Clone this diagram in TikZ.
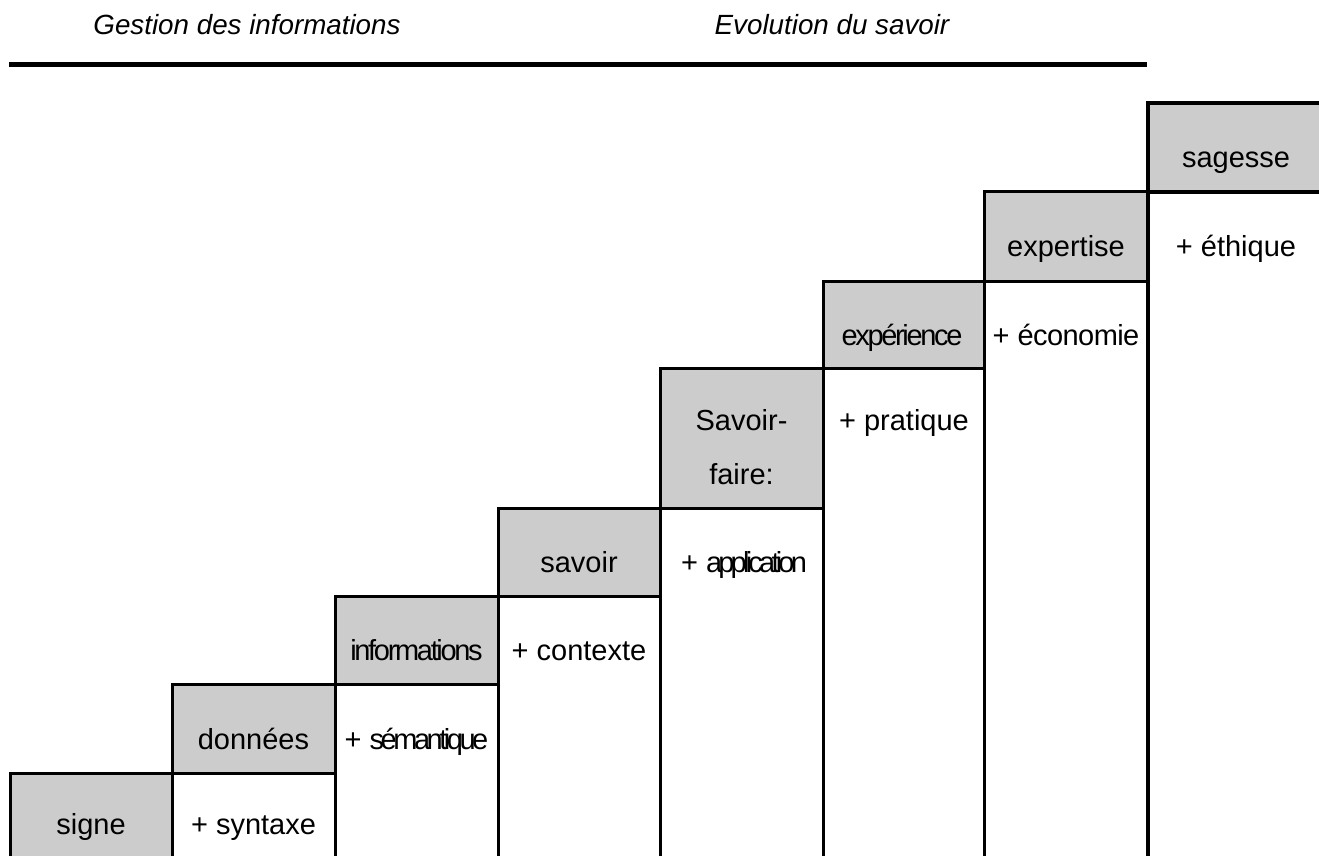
\documentclass[tikz,border=0pt]{standalone}
\usepackage{fontspec}
\setmainfont{Liberation Sans}
\newcommand\tight[2]{{\addfontfeature{LetterSpace=#1}#2}}
\definecolor{cellgray}{HTML}{CCCCCC}
\tikzset{
  gridline/.style={line width=0.6mm},
  boldline/.style={line width=0.9mm},
  celltext/.style={anchor=base, inner sep=0pt, font=\fontsize{16.5}{20}\selectfont},
  titletext/.style={anchor=base, inner sep=0pt, font=\itshape\fontsize{15.8}{20}\selectfont}
}

\begin{document}
\begin{tikzpicture}[x=0.2mm, y=-0.2mm]
    \useasboundingbox (0,0) rectangle (1319,856);
    \clip (0,0) rectangle (1319,856);

    % titres
    \node[titletext] (gestion) at (247,35) {Gestion des informations};
    \node[titletext] (evolution) at (832,35) {Evolution du savoir};
    \draw[line width=1mm] (9,64.5) -- (1147,64.5);

    % colonnes de l'escalier
    \foreach \xa/\xb/\ya/\yb in {10/172/773/880, 172/335/685/773, 335/498/597/685, 498/660/509/597, 660/823/369/509, 823/984/282/369, 984/1148/192/282} {
        \filldraw[fill=cellgray, gridline] (\xa,\ya) rectangle (\xb,\yb);
        \draw[gridline] (\xa,\yb) -- (\xa,880) (\xb,\yb) -- (\xb,880);
    }
    \filldraw[fill=cellgray, boldline] (1148,103) rectangle (1340,192);
    \draw[boldline] (1148,192) -- (1148,880);

    % textes
    \node[celltext] (signe) at (91,834.5) {signe};
    \node[celltext] (syntaxe) at (253.5,834.5) {+ syntaxe};
    \node[celltext] (donnees) at (253.5,749) {données};
    \node[celltext] (semantique) at (416.5,749) {+ \tight{-12}{sémantique}};
    \node[celltext] (informations) at (416.5,661) {\tight{-8}{informations}};
    \node[celltext] (contexte) at (579,661) {+ contexte};
    \node[celltext] (savoir) at (579,573) {savoir};
    \node[celltext] (application) at (744,573) {+ \tight{-13}{application}};
    \node[celltext] (savoirfaire) at (741.5,431) {Savoir-};
    \node[celltext] (faire) at (741.5,485) {faire:};
    \node[celltext] (pratique) at (904,431) {+ pratique};
    \node[celltext] (experience) at (902,345.5) {\tight{-8}{expérience}};
    \node[celltext] (economie) at (1066,345.5) {+ \tight{-2}{économie}};
    \node[celltext] (expertise) at (1066,257) {expertise};
    \node[celltext] (ethique) at (1236,257) {+ éthique};
    \node[celltext] (sagesse) at (1236,167.5) {sagesse};
\end{tikzpicture}
\end{document}
